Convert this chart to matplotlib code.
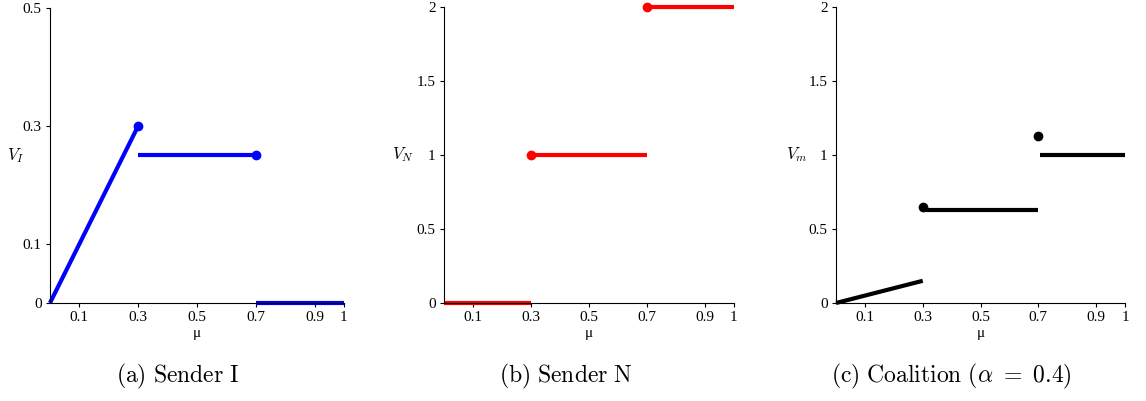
import numpy as np
import matplotlib.pyplot as plt

plt.rcParams['font.family'] = ['Liberation Serif', 'DejaVu Serif']
plt.rcParams['mathtext.fontset'] = 'cm'

# Sender I
segs_I = [([0.0, 0.3], [0.0, 0.3]), ([0.3, 0.7], [0.25, 0.25]), ([0.7, 1.0], [0.0, 0.0])]
dots_I = ([0.3, 0.7], [0.3, 0.25])
# Sender N
segs_N = [([0.0, 0.3], [0.0, 0.0]), ([0.3, 0.7], [1.0, 1.0]), ([0.7, 1.0], [2.0, 2.0])]
dots_N = ([0.3, 0.7], [1.0, 2.0])
# Coalition
segs_C = [([0.0, 0.3], [0.0, 0.15]), ([0.305, 0.7], [0.625, 0.625]), ([0.705, 1.0], [1.0, 1.0])]
dots_C = ([0.3, 0.7], [0.65, 1.125])

xticks = [0.1, 0.3, 0.5, 0.7, 0.9, 1]
xticklabels = ['0.1', '0.3', '0.5', '0.7', '0.9', '1']

panels = [
    dict(segs=segs_I, dots=dots_I, color='#0000ff', ylim=0.5, yticks=[0, 0.1, 0.3, 0.5],
         yticklabels=['0', '0.1', '0.3', '0.5'], ylabel=r'$V_I$', lx=-0.115,
         rect=[0.0436, 0.2444, 0.2565, 0.7357], caption=r'$\mathrm{(a)\ Sender\ I}$', cx=0.155),
    dict(segs=segs_N, dots=dots_N, color='#ff0000', ylim=2, yticks=[0, 0.5, 1, 1.5, 2],
         yticklabels=['0', '0.5', '1', '1.5', '2'], ylabel=r'$V_N$', lx=-0.14,
         rect=[0.3874, 0.2444, 0.2530, 0.7382], caption=r'$\mathrm{(b)\ Sender\ N}$', cx=0.494),
    dict(segs=segs_C, dots=dots_C, color='black', ylim=2, yticks=[0, 0.5, 1, 1.5, 2],
         yticklabels=['0', '0.5', '1', '1.5', '2'], ylabel=r'$V_m$', lx=-0.135,
         rect=[0.7295, 0.2444, 0.2522, 0.7382], caption=r'$\mathrm{(c)\ Coalition\ (}\alpha\ =\ 0.4\mathrm{)}$', cx=0.830),
]

fig = plt.figure(figsize=(11.46, 4.01), dpi=100)

for p in panels:
    ax = fig.add_axes(p['rect'])
    for xs, ys in p['segs']:
        ax.plot(xs, ys, color=p['color'], lw=3, solid_capstyle='butt', clip_on=False)
    ax.plot(p['dots'][0], p['dots'][1], 'o', color=p['color'], ms=6, clip_on=False)
    ax.set_xlim(0, 1)
    ax.set_ylim(0, p['ylim'])
    ax.set_xticks(xticks)
    ax.set_xticklabels(xticklabels)
    ax.set_yticks(p['yticks'])
    ax.set_yticklabels(p['yticklabels'])
    ax.tick_params(labelsize=11, length=3, width=0.8, pad=3)
    for s in ['top', 'right']:
        ax.spines[s].set_visible(False)
    ax.set_xlabel('μ', fontsize=11, labelpad=2)
    ax.set_ylabel(p['ylabel'], fontsize=12, rotation=0, va='center', ha='center')
    ax.yaxis.set_label_coords(p['lx'], 0.5)
    fig.text(p['cx'], 0.06, p['caption'], fontsize=17, ha='center', va='center')

fig.savefig('out.png', dpi=100)
